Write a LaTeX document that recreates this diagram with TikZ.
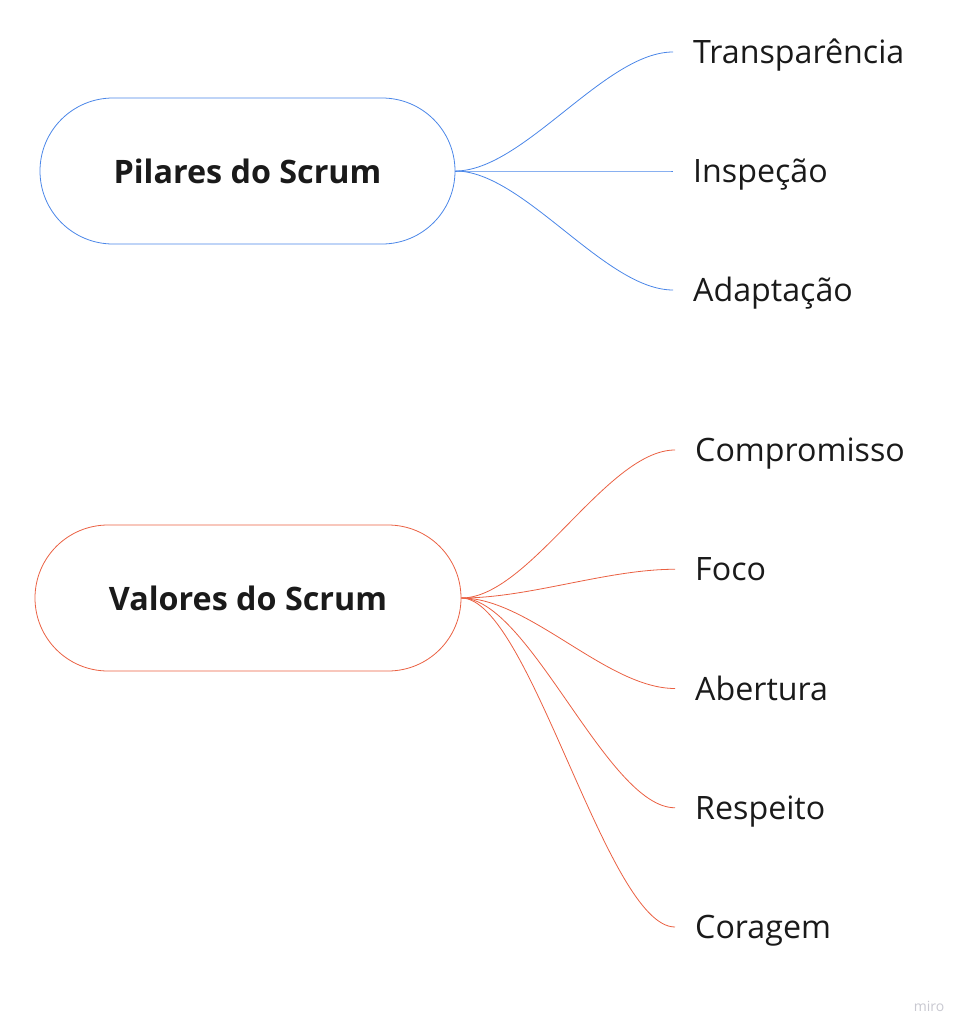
\documentclass[tikz,border=0pt]{standalone}
\usepackage{fontspec}
\setmainfont{Open Sans}
\usetikzlibrary{positioning}
\definecolor{pilarblue}{RGB}{74,134,232}
\definecolor{valorred}{RGB}{234,96,66}
\definecolor{textdark}{RGB}{26,26,26}
\definecolor{marklight}{RGB}{200,200,208}

\begin{document}
\begin{tikzpicture}[x=1pt, y=-1pt,
    root/.style = {draw, rounded corners=73pt, minimum height=146pt, line width=0.8pt, text=textdark, font=\fontsize{32.3}{38}\selectfont\bfseries},
    leaf/.style = {anchor=west, inner xsep=20pt, inner ysep=0pt, text height=23pt, text depth=0pt, text=textdark, font=\fontsize{32.2}{38}\selectfont},
    branch/.style = {line width=0.8pt, to path={.. controls +(68,0) and +(-68,0) .. (\tikztotarget)}}]
            \useasboundingbox (0,0) rectangle (967,1033);

            % pilares
            \node[root, draw=pilarblue, minimum width=415pt] (P) at (247.5,171) {Pilares do Scrum};
            \node[leaf] (P1) at (673,52) {Transparência};
            \node[leaf, below=119pt of P1.west, anchor=west] (P2) {Inspeção};
            \node[leaf, below=119pt of P2.west, anchor=west] (P3) {Adaptação};

            \foreach \leafname in {P1,P2,P3}
                \path[draw=pilarblue] (P.east) edge[branch] (\leafname.west);

            % valores
            \node[root, draw=valorred, minimum width=426pt] (V) at (248,598) {Valores do Scrum};
            \node[leaf] (V1) at (675,450) {Compromisso};
            \node[leaf, below=119.25pt of V1.west, anchor=west] (V2) {Foco};
            \node[leaf, below=119.25pt of V2.west, anchor=west] (V3) {Abertura};
            \node[leaf, below=119.25pt of V3.west, anchor=west] (V4) {Respeito};
            \node[leaf, below=119.25pt of V4.west, anchor=west] (V5) {Coragem};

            \foreach \leafname in {V1,V2,V3,V4,V5}
                \path[draw=valorred] (V.east) edge[branch] (\leafname.west);

            \node[text=marklight, font=\fontsize{14}{16}\selectfont] (M) at (929,1006) {miro};
        \end{tikzpicture}
\end{document}
